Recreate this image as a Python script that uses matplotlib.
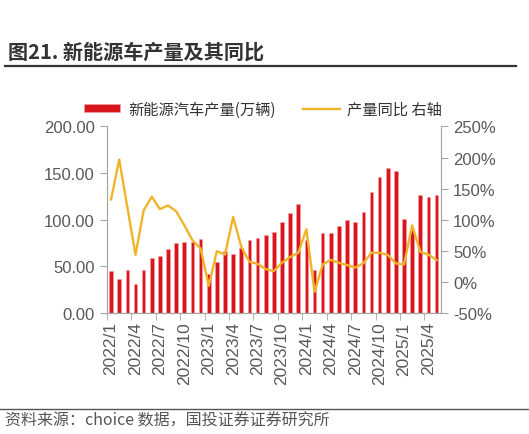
import matplotlib
matplotlib.use('Agg')
import matplotlib.pyplot as plt
from matplotlib.lines import Line2D
from matplotlib.ticker import FuncFormatter, FixedLocator
import numpy as np

plt.rcParams['font.family'] = ['Noto Sans CJK SC', 'DejaVu Sans']

# 月份
months = [f'{y}/{m}' for y in range(2022, 2026) for m in range(1, 13)][:41]

# 新能源汽车产量(万辆)
production = [44.6, 36.0, 45.6, 30.7, 46.0, 58.8, 61.0, 68.8, 74.9, 75.6, 75.9, 79.1,
              41.7, 54.5, 66.7, 63.5, 70.2, 78.1, 80.2, 83.8, 87.3, 98.0, 107.0, 116.6,
              78.4, 46.0, 85.6, 86.3, 93.8, 99.8, 98.0, 108.7, 130.1, 145.5, 155.8, 152.2,
              101.3, 89.0, 126.7, 124.4, 126.2]

# 产量同比(%)
yoy = [132.8, 197.0, 120.0, 43.5, 115.0, 137.0, 117.0, 123.0, 113.6, 91.0, 67.0, 53.7,
       -6.2, 49.4, 44.0, 104.5, 56.4, 32.3, 29.1, 20.5, 17.5, 31.0, 40.0, 46.7,
       84.7, -16.0, 28.0, 35.5, 30.7, 27.0, 23.0, 30.0, 47.0, 46.7, 43.5, 29.8,
       28.0, 91.0, 48.3, 44.0, 35.0]

bar_color = '#D9161E'
line_color = '#F0B429'
tick_color = '#595959'
spine_color = '#A6A6A6'

fig = plt.figure(figsize=(5.29, 4.35), dpi=100)
ax = fig.add_axes([0.2023, 0.2782, 0.6307, 0.4287])
ax2 = ax.twinx()

x = np.arange(len(months))
bars = ax.bar(x, production, width=0.45, color=bar_color, edgecolor='#F3A0A4', linewidth=0.4)
line, = ax2.plot(x, yoy, color=line_color, lw=1.7)

ax.set_xlim(-0.5, len(months) - 0.5)
ax.set_ylim(0, 200)
ax.set_yticks(np.arange(0, 201, 50))
ax.yaxis.set_major_formatter(FuncFormatter(lambda v, p: f'{v:.2f}'))
ax2.set_ylim(-50, 250)
ax2.set_yticks(np.arange(-50, 251, 50))
ax2.yaxis.set_major_formatter(FuncFormatter(lambda v, p: f'{v:.0f}%'))

# x轴：标签在类别中心，刻度线在类别边界
ax.set_xticks(x[::3])
ax.set_xticklabels(months[::3], rotation=90)
ax.xaxis.set_minor_locator(FixedLocator(np.arange(-0.5, len(months), 3)))
ax.tick_params(axis='x', which='major', length=0, pad=6)
ax.tick_params(axis='x', which='minor', length=5, color=spine_color, direction='out')

for a in (ax, ax2):
    a.tick_params(axis='y', length=5, color=spine_color, labelcolor=tick_color, labelsize=12)
    a.tick_params(axis='x', labelcolor=tick_color, labelsize=12.5)
    for s in a.spines.values():
        s.set_color(spine_color)
    a.spines['top'].set_visible(False)
    for lab in a.get_yticklabels() + a.get_xticklabels():
        lab.set_family('Liberation Sans')
ax.tick_params(axis='y', pad=4)
ax2.tick_params(axis='y', pad=4)

# 图例
fig.legend([bars, line], ['新能源汽车产量(万辆)', '产量同比 右轴'],
           loc='center', bbox_to_anchor=(0.497, 0.747), ncol=2, frameon=False,
           handlelength=2.4, handleheight=0.5, columnspacing=1.8, handletextpad=0.5,
           fontsize=11, labelcolor='#333333')

# 标题
fig.text(0.015, 1 - 52 / 435, '图21. 新能源车产量及其同比', fontsize=14.5, fontweight='bold',
         color='#333333', va='center', ha='left')
fig.add_artist(Line2D([0.01, 0.975], [1 - 67 / 435] * 2, color='#333333', lw=1.6))

# 资料来源
fig.add_artist(Line2D([0.0, 1.0], [1 - 410 / 435] * 2, color='#555555', lw=1.0))
fig.text(0.01, 1 - 421 / 435, '资料来源：choice 数据，国投证券证券研究所', fontsize=11.5,
         color='#555555', va='center', ha='left')

fig.savefig('out.png', dpi=100)
